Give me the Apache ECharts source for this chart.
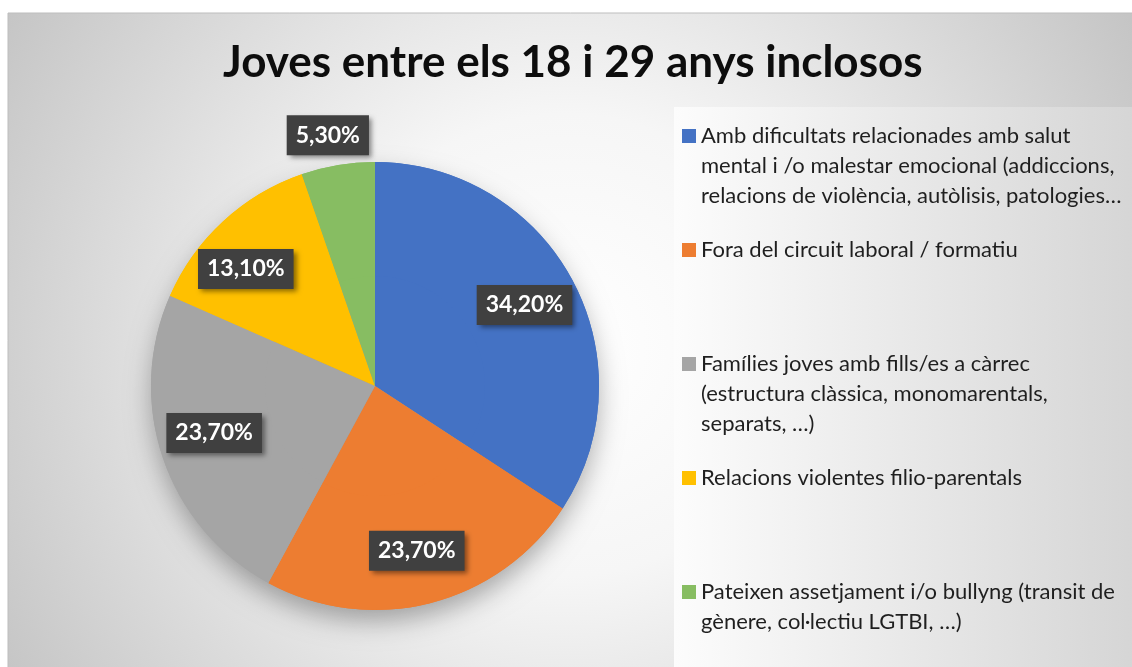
<!DOCTYPE html>
<html>
<head>
<meta charset="utf-8">
<title>Joves entre els 18 i 29 anys inclosos</title>
<script src="https://cdn.jsdelivr.net/npm/echarts@6/dist/echarts.min.js"></script>
<style>
  html, body { margin: 0; padding: 0; background: #fff; }
  #chart { width: 1132px; height: 667px; }
</style>
</head>
<body>
<div id="chart"></div>
<script>
// categories (wrapped as in the original legend) and shares in %
var categories = [
  'Amb dificultats relacionades amb salut\nmental i /o malestar emocional (addiccions,\nrelacions de violència, autòlisis, patologies…',
  'Fora del circuit laboral / formatiu',
  'Famílies joves amb fills/es a càrrec\n(estructura clàssica, monomarentals,\nseparats, …)',
  'Relacions violentes filio-parentals',
  'Pateixen assetjament i/o bullyng (transit de\ngènere, col·lectiu LGTBI, …)'
]
var values = [34.2, 23.7, 23.7, 13.1, 5.3]
var colors = ['#4472C4', '#ED7D31', '#A5A5A5', '#FFC000', '#87BD62']

var chart = echarts.init(document.getElementById('chart'))

var pieData = categories.map(function (name, i) {
  return { name: name, value: values[i], itemStyle: { color: colors[i] } }
})
var total = values.reduce(function (a, b) { return a + b }, 0)

// rich styles for legend squares
var rich = {
  g: { width: 5, lineHeight: 30, fontSize: 22 },
  in: { width: 19, lineHeight: 30, fontSize: 22 },
  t: { fontFamily: 'Lato', fontSize: 22, lineHeight: 30, color: '#1f1f1f' }
}
colors.forEach(function (c, i) {
  rich['s' + i] = { width: 14, height: 14, lineHeight: 30, backgroundColor: c, fontSize: 10 }
})

chart.setOption({
  backgroundColor: '#ffffff',
  animation: false,
  graphic: [{
    type: 'rect',
    z: -10,
    shape: { x: 8, y: 13, width: 1130, height: 660 },
    style: {
      fill: new echarts.graphic.RadialGradient(566, 345, 660, [
        { offset: 0, color: '#ffffff' },
        { offset: 0.35, color: '#f6f6f6' },
        { offset: 1, color: '#c4c4c4' }
      ], true),
      stroke: '#bdbdbd',
      lineWidth: 1
    },
    silent: true
  }],
  title: {
    text: 'Joves entre els 18 i 29 anys inclosos',
    left: 223,
    top: 41,
    padding: 0,
    textStyle: { fontFamily: 'Lato', fontWeight: 'bold', fontSize: 44, color: '#0d0d0d' }
  },
  legend: {
    orient: 'vertical',
    left: 674,
    top: 107,
    padding: [18, 30, 40, 3],
    itemGap: 32,
    itemWidth: 0,
    itemHeight: 0,
    selectedMode: false,
    data: categories,
    backgroundColor: new echarts.graphic.LinearGradient(0, 0, 1, 0, [
      { offset: 0, color: '#fcfcfc' },
      { offset: 1, color: '#d4d4d4' }
    ]),
    textStyle: { rich: rich },
    formatter: function (name) {
      var i = categories.indexOf(name)
      var lines = name.split('\n')
      while (lines.length < 3 && i < categories.length - 1) lines.push('')
      return lines.map(function (l, k) {
        var head = k === 0 ? '{s' + i + '|\u00a0}{g|\u00a0}' : '{in|\u00a0}'
        return head + (l ? '{t|' + l + '}' : '')
      }).join('\n')
    }
  },
  series: [
    {
      // soft drop shadow under the pie
      type: 'pie',
      center: [375, 386],
      radius: 223,
      silent: true,
      z: 1,
      label: { show: false },
      labelLine: { show: false },
      itemStyle: {
        color: '#9a9a9a',
        shadowBlur: 26,
        shadowOffsetY: 12,
        shadowColor: 'rgba(0,0,0,0.32)'
      },
      data: [{ name: '', value: total }]
    },
    {
      type: 'pie',
      center: [375, 386],
      radius: 224,
      startAngle: 90,
      clockwise: true,
      z: 2,
      silent: true,
      label: { show: false },
      labelLine: { show: false },
      itemStyle: { borderWidth: 0 },
      data: pieData
    },
    {
      // transparent ring that carries the data labels
      type: 'pie',
      center: [375, 386],
      radius: [110, 224],
      startAngle: 90,
      clockwise: true,
      z: 3,
      silent: true,
      itemStyle: { color: 'rgba(0,0,0,0)' },
      labelLine: { show: false },
      label: {
        show: true,
        position: 'inside',
        formatter: function (p) { return p.value.toFixed(2).replace('.', ',') + '%' },
        fontFamily: 'Lato',
        fontWeight: 'bold',
        fontSize: 23,
        lineHeight: 24,
        color: '#ffffff',
        backgroundColor: '#404040',
        padding: [8, 9],
        shadowBlur: 5,
        shadowOffsetX: 3,
        shadowOffsetY: 3,
        shadowColor: 'rgba(0,0,0,0.45)'
      },
      labelLayout: function (p) {
        if (p.dataIndex === 4) return { dx: -19, dy: -83 }
        if (p.dataIndex === 3) return { dx: -14, dy: 8 }
        if (p.dataIndex === 2) return { dy: -8 }
        return {}
      },
      data: pieData
    }
  ]
})
</script>
</body>
</html>
